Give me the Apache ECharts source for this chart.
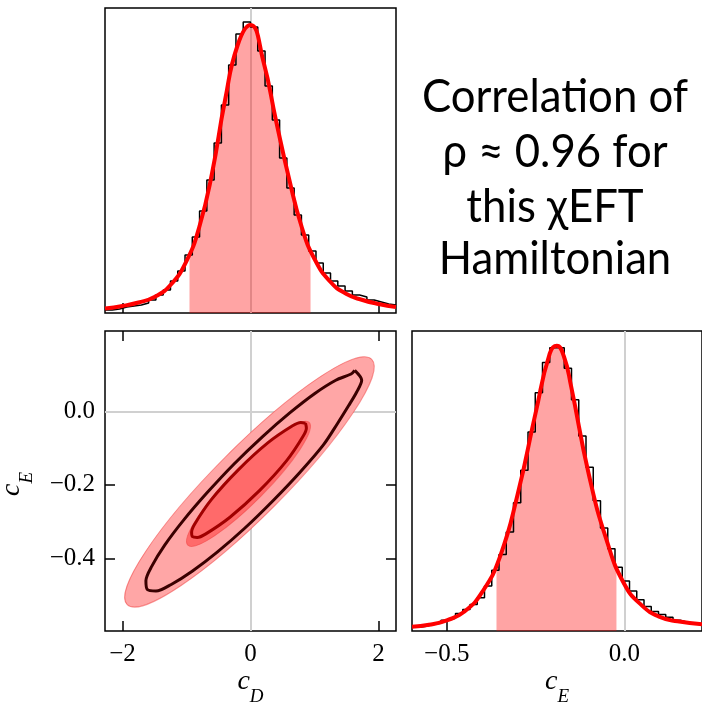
<!DOCTYPE html>
<html><head><meta charset="utf-8">
<script src="https://cdn.jsdelivr.net/npm/echarts@6/dist/echarts.min.js"></script>
<style>html,body{margin:0;padding:0;background:#fff}#c{width:702px;height:707px}</style>
</head><body><div id="c"></div>
<script>
// ---- axis ranges ----
const cD_min = -2.273, cD_max = 2.273;
const cE_min = -0.598, cE_max = 0.219;
const histTopMax = 305, histRightMax = 306;

// ---- tick values ----
const cD_ticks = [-2, 0, 2];
const cE_ticksY = [-0.4, -0.2, 0];
const cE_ticksX = [-0.5, 0];

// ---- c_D histogram (40 bins) ----
const cD_binStart = -2.273, cD_binWidth = 0.11365;
const cD_hist = [3,4,6,7,8,10,13,18,23,32,42,58,76,102,133,170,208,248,279,291,
                 286,262,227,193,155,125,98,78,62,50,40,32,27,22,18,16,13,11,9,8];

// ---- c_E histogram (40 bins) ----
const cE_binStart = -0.598, cE_binWidth = 0.020425;
const cE_hist = [4,5,7,8,11,13,18,22,27,34,46,62,78,101,131,164,203,243,274,289,
                 289,268,236,199,167,133,105,84,65,51,41,32,25,20,17,14,11,9,8,7];

// ---- fitted curves ----
const cD_curveX = [-2.273,-2.0,-1.75,-1.5,-1.25,-1.0,-0.8,-0.6,-0.4,-0.2,0,0.2,0.4,0.6,0.8,1.0,1.25,1.5,1.75,2.0,2.273];
const cD_curveY = [4.5,7,10.5,16,28,52,86,140,212,268,288,252,192,135,86,54,31,19,13,9,6];
const cE_curveX = [-0.598,-0.55,-0.5,-0.45,-0.40,-0.35,-0.30,-0.25,-0.21,-0.19,-0.17,-0.15,-0.10,-0.05,0,0.05,0.10,0.15,0.219];
const cE_curveY = [4.5,6.5,11,20,40,76,140,222,283,291,280,250,160,93,48,26,14.5,10,7];

// ---- shaded 68% bands ----
const cD_bandX = [-0.953,-0.8,-0.6,-0.4,-0.2,0,0.2,0.4,0.6,0.8,0.938];
const cD_bandY = [60,86,140,212,268,288,252,192,135,86,62];
const cE_bandX = [-0.360,-0.35,-0.30,-0.25,-0.21,-0.19,-0.17,-0.15,-0.10,-0.05,-0.022];
const cE_bandY = [68,76,140,222,283,291,280,250,160,93,69];

// ---- 2D: gaussian ellipses [centerX, centerY, majorTipX, majorTipY, minorEdgeX, minorEdgeY] ----
const ellipseOuter = [-0.016,-0.192, 1.894,0.142, 0.377,-0.257];
const ellipseInner = [-0.031,-0.197, 0.917,-0.030, 0.167,-0.230];

// ---- 2D: empirical contours ----
const contourOuter = [[1.628,0.112],[1.737,0.085],[1.659,0.053],[1.534,0.016],[1.362,-0.032],[1.139,-0.091],
  [0.770,-0.166],[0.351,-0.243],[-0.091,-0.318],[-0.520,-0.383],[-0.911,-0.435],[-1.238,-0.471],[-1.477,-0.489],
  [-1.612,-0.485],[-1.634,-0.461],[-1.541,-0.421],[-1.340,-0.364],[-1.045,-0.296],[-0.676,-0.221],[-0.257,-0.143],
  [0.185,-0.069],[0.613,-0.004],[1.005,0.049],[1.332,0.085],[1.571,0.102],[1.628,0.112]];
const contourInner = [[0.859,-0.032],[0.873,-0.045],[0.824,-0.067],[0.565,-0.134],[0.144,-0.215],[-0.321,-0.288],
  [-0.704,-0.334],[-0.833,-0.343],[-0.906,-0.341],[-0.920,-0.329],[-0.873,-0.307],[-0.612,-0.240],[-0.191,-0.159],
  [0.274,-0.085],[0.657,-0.039],[0.786,-0.030],[0.859,-0.032]];

// ---- annotation ----
const textLines = ['Correlation of', 'ρ ≈ 0.96 for', 'this χEFT', 'Hamiltonian'];

// ================= build =================
function stepData(start, width, h) {
  const d = h.map((v, i) => [start + i * width, v]);
  d.push([start + h.length * width, h[h.length - 1]]);
  return d;
}
const zip = (xs, ys) => xs.map((x, i) => [x, ys[i]]);
const fmt = d => v => (v < 0 ? '\u2212' : '') + Math.abs(v).toFixed(d);
const SERIF = 'Liberation Serif';
const tickStyle = vals => ({show: true, inside: true, length: 10, customValues: vals, lineStyle: {color: '#000', width: 1.5}});
const labelStyle = (vals, d, m) => ({show: true, customValues: vals, formatter: fmt(d), fontFamily: SERIF, fontSize: 25, color: '#000', margin: m});
const nameRich = {
  c: {fontFamily: SERIF, fontStyle: 'italic', fontSize: 28, lineHeight: 38, verticalAlign: 'top', color: '#000'},
  s: {fontFamily: SERIF, fontStyle: 'italic', fontSize: 19, lineHeight: 19, verticalAlign: 'bottom', color: '#000'}
};
const baseAxis = {axisLine: {show: false, onZero: false}, splitLine: {show: false}, axisLabel: {show: false}, axisTick: {show: false}};
const gray = {color: '#d0d0d0', width: 2, type: 'solid'};
const zeroMark = list => ({silent: true, z: 1, symbol: ['none', 'none'], label: {show: false}, lineStyle: gray, data: list, animation: false});

function ellipseItem(fill, stroke) {
  return function (params, api) {
    const c = api.coord([api.value(0), api.value(1)]);
    const t = api.coord([api.value(2), api.value(3)]);
    const m = api.coord([api.value(4), api.value(5)]);
    const a = Math.hypot(t[0] - c[0], t[1] - c[1]);
    const b = Math.hypot(m[0] - c[0], m[1] - c[1]);
    return {
      type: 'ellipse', x: c[0], y: c[1], rotation: -Math.atan2(t[1] - c[1], t[0] - c[0]),
      shape: {cx: 0, cy: 0, rx: a, ry: b},
      style: {fill: fill, stroke: stroke, lineWidth: 1}
    };
  };
}

const option = {
  animation: false,
  grid: [
    {left: 105, top: 8, width: 291, height: 305, show: true, borderColor: '#000', borderWidth: 1.5, backgroundColor: 'transparent'},
    {left: 105, top: 331, width: 291, height: 306, show: true, borderColor: '#000', borderWidth: 1.5, backgroundColor: 'transparent'},
    {left: 412, top: 331, width: 292, height: 306, show: true, borderColor: '#000', borderWidth: 1.5, backgroundColor: 'transparent'}
  ],
  xAxis: [
    Object.assign({}, baseAxis, {type: 'value', gridIndex: 0, min: cD_min, max: cD_max, axisTick: tickStyle(cD_ticks)}),
    Object.assign({}, baseAxis, {type: 'value', gridIndex: 1, position: 'bottom', min: cD_min, max: cD_max, axisTick: tickStyle(cD_ticks),
      axisLabel: labelStyle(cD_ticks, 0, 11),
      name: '{c|c}{s|D}', nameLocation: 'middle', nameGap: 34, nameTextStyle: {rich: nameRich}}),
    Object.assign({}, baseAxis, {type: 'value', gridIndex: 1, position: 'top', min: cD_min, max: cD_max, axisTick: tickStyle(cD_ticks)}),
    Object.assign({}, baseAxis, {type: 'value', gridIndex: 2, min: cE_min, max: cE_max, axisTick: tickStyle(cE_ticksX),
      axisLabel: labelStyle(cE_ticksX, 1, 11),
      name: '{c|c}{s|E}', nameLocation: 'middle', nameGap: 34, nameTextStyle: {rich: nameRich}})
  ],
  yAxis: [
    Object.assign({}, baseAxis, {type: 'value', gridIndex: 0, min: 0, max: histTopMax}),
    Object.assign({}, baseAxis, {type: 'value', gridIndex: 1, position: 'left', min: cE_min, max: cE_max, axisTick: tickStyle(cE_ticksY),
      axisLabel: labelStyle(cE_ticksY, 1, 10)}),
    Object.assign({}, baseAxis, {type: 'value', gridIndex: 1, position: 'right', min: cE_min, max: cE_max, axisTick: tickStyle(cE_ticksY)}),
    Object.assign({}, baseAxis, {type: 'value', gridIndex: 2, min: 0, max: histRightMax})
  ],
  series: [
    // ---- top: c_D marginal ----
    {type: 'line', xAxisIndex: 0, yAxisIndex: 0, data: zip(cD_curveX, cD_curveY), symbol: 'none', silent: true,
      lineStyle: {width: 0, opacity: 0}, z: 1, markLine: zeroMark([{xAxis: 0}])},
    {type: 'line', xAxisIndex: 0, yAxisIndex: 0, data: zip(cD_bandX, cD_bandY), smooth: true, symbol: 'none', silent: true,
      lineStyle: {width: 0, opacity: 0}, areaStyle: {color: 'rgba(255,0,0,0.355)', opacity: 1}, z: 2},
    {type: 'line', xAxisIndex: 0, yAxisIndex: 0, data: stepData(cD_binStart, cD_binWidth, cD_hist), step: 'end', symbol: 'none',
      silent: true, lineStyle: {color: '#000', width: 1.5}, z: 3},
    {type: 'line', xAxisIndex: 0, yAxisIndex: 0, data: zip(cD_curveX, cD_curveY), smooth: true, symbol: 'none', silent: true,
      lineStyle: {color: '#ff0000', width: 4}, z: 4},

    // ---- 2D joint ----
    {type: 'line', xAxisIndex: 1, yAxisIndex: 1, data: contourOuter, symbol: 'none', silent: true,
      lineStyle: {width: 0, opacity: 0}, z: 1, markLine: zeroMark([{xAxis: 0}, {yAxis: 0}])},
    {type: 'custom', xAxisIndex: 1, yAxisIndex: 1, data: [ellipseOuter], renderItem: ellipseItem('#ffa6a6', 'rgba(240,70,70,0.55)'), silent: true, z: 2},
    {type: 'custom', xAxisIndex: 1, yAxisIndex: 1, data: [ellipseInner], renderItem: ellipseItem('#ff6a6a', 'rgba(240,70,70,0.55)'), silent: true, z: 3},
    {type: 'line', xAxisIndex: 1, yAxisIndex: 1, data: contourOuter, smooth: 0.3, symbol: 'none', silent: true,
      lineStyle: {color: '#3a0000', width: 3}, z: 4},
    {type: 'line', xAxisIndex: 1, yAxisIndex: 1, data: contourInner, smooth: 0.3, symbol: 'none', silent: true,
      lineStyle: {color: '#a00000', width: 3}, z: 5},

    // ---- right: c_E marginal ----
    {type: 'line', xAxisIndex: 3, yAxisIndex: 3, data: zip(cE_curveX, cE_curveY), symbol: 'none', silent: true,
      lineStyle: {width: 0, opacity: 0}, z: 1, markLine: zeroMark([{xAxis: 0}])},
    {type: 'line', xAxisIndex: 3, yAxisIndex: 3, data: zip(cE_bandX, cE_bandY), smooth: true, symbol: 'none', silent: true,
      lineStyle: {width: 0, opacity: 0}, areaStyle: {color: 'rgba(255,0,0,0.355)', opacity: 1}, z: 2},
    {type: 'line', xAxisIndex: 3, yAxisIndex: 3, data: stepData(cE_binStart, cE_binWidth, cE_hist), step: 'end', symbol: 'none',
      silent: true, lineStyle: {color: '#000', width: 1.5}, z: 3},
    {type: 'line', xAxisIndex: 3, yAxisIndex: 3, data: zip(cE_curveX, cE_curveY), smooth: true, symbol: 'none', silent: true,
      lineStyle: {color: '#ff0000', width: 4}, z: 4}
  ],
  graphic: textLines.map((t, i) => ({
    type: 'text', x: 555, y: [96.9, 151.9, 206.9, 259.2][i], scaleX: 0.95,
    style: {text: t, fontFamily: 'Lato', fontSize: 46, fill: '#000', align: 'center', verticalAlign: 'middle'}
  })).concat([{
    // y-axis title of the joint panel, reading bottom-to-top
    type: 'text', x: 17, y: 484, rotation: Math.PI / 2,
    style: {text: '{c|c}{s|E}', rich: nameRich, align: 'center', verticalAlign: 'middle'}
  }])
};
const chart = echarts.init(document.getElementById('c'), null, {renderer: 'canvas'});
chart.setOption(option);
</script>
</body></html>
